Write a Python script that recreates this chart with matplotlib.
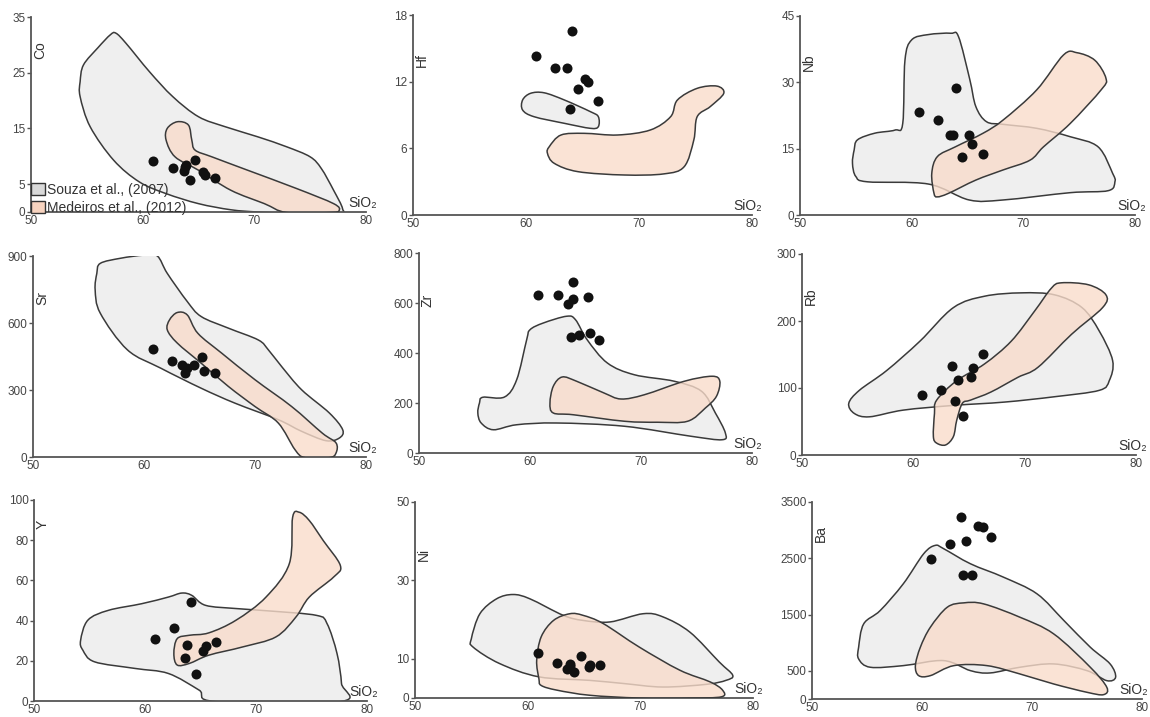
import numpy as np
import matplotlib
matplotlib.use("Agg")
import matplotlib.pyplot as plt
from matplotlib.path import Path
from matplotlib.patches import PathPatch, Patch

plt.rcParams['font.family'] = ['Liberation Sans', 'DejaVu Sans']

# ---------------- data ----------------
x_ticks = [50, 60, 70, 80]

# Co
co_si = [60.9, 62.7, 63.7, 63.8, 63.9, 64.7, 64.2, 65.4, 65.6, 66.5]
co_val = [9.1, 7.9, 7.4, 8.1, 8.5, 9.4, 5.7, 7.1, 6.7, 6.1]
co_souza = [(54.4, 23.4), (54.7, 26.4), (56.0, 29.5), (57.1, 31.8), (57.6, 32.1), (58.5, 30.3),
            (60.6, 25.2), (62.7, 20.7), (65.0, 17.1), (67.4, 15.3), (70.3, 13.5), (72.9, 11.7),
            (75.0, 9.9), (76.0, 7.8), (77.1, 3.9), (77.9, 0.6), (77.5, -0.2), (72.9, -0.2),
            (70.3, 0.0), (67.9, 0.4), (65.0, 1.5), (62.1, 3.3), (59.7, 5.4), (57.4, 9.3),
            (55.3, 15.3), (54.4, 20.7)]
co_medeiros = [(63.1, 16.2), (64.1, 15.6), (64.4, 12.9), (64.7, 11.1), (66.2, 9.9), (69.4, 7.5),
               (73.8, 4.2), (77.1, 1.5), (77.6, 0.3), (76.8, -0.1), (72.9, -0.1), (70.9, 1.5),
               (67.9, 3.9), (65.0, 7.5), (62.9, 9.9), (62.1, 12.9), (62.2, 15.0)]

# Hf
hf_si = [60.85, 62.6, 63.65, 64.1, 64.6, 65.2, 65.5, 66.4, 63.9]
hf_val = [14.3, 13.26, 13.2, 16.56, 11.3, 12.24, 11.97, 10.29, 9.5]
hf_souza = [(59.7, 10.35), (60.4, 10.95), (61.6, 11.0), (63.4, 10.35), (65.7, 9.3), (66.4, 8.85),
            (66.4, 7.95), (65.7, 7.8), (63.4, 8.25), (60.7, 8.85), (59.7, 9.45)]
hf_medeiros = [(62.06, 6.15), (63.1, 7.2), (65.15, 7.35), (68.1, 7.2), (71.0, 7.65), (72.8, 8.85),
               (73.4, 10.35), (75.15, 11.4), (76.9, 11.6), (77.5, 10.95), (76.3, 9.75),
               (75.15, 8.85), (74.85, 6.75), (74.0, 4.35), (72.2, 3.7), (68.7, 3.6), (64.6, 3.9),
               (62.5, 4.65), (61.9, 5.55)]

# Nb
nb_si = [60.7, 62.4, 63.4, 63.7, 64.0, 64.5, 65.15, 65.4, 66.4]
nb_val = [23.2, 21.5, 18.2, 18.1, 28.8, 13.2, 18.2, 16.05, 13.9]
nb_souza = [(54.85, 14.7), (55.15, 17.0), (56.7, 18.5), (58.5, 19.2), (59.2, 20.7), (59.4, 35.0),
            (60.0, 39.6), (61.5, 40.8), (63.5, 41.1), (64.2, 40.3), (65.2, 30.7), (65.75, 24.5),
            (66.7, 21.1), (68.2, 20.5), (71.2, 19.6), (74.2, 17.7), (76.7, 15.4), (78.0, 9.4),
            (78.2, 7.5), (77.6, 5.5), (74.2, 5.05), (68.2, 3.4), (65.15, 3.4), (61.5, 7.0),
            (56.06, 7.5), (55.0, 8.7), (54.7, 11.7)]
nb_medeiros = [(62.0, 4.9), (61.8, 9.4), (62.3, 13.2), (63.9, 15.4), (66.4, 18.5), (68.2, 21.5),
               (71.2, 28.3), (73.6, 36.2), (74.8, 36.7), (76.4, 35.0), (77.4, 30.9), (77.0, 28.4),
               (74.2, 20.7), (71.8, 15.4), (70.6, 12.4), (68.2, 10.2), (65.75, 7.9), (63.3, 4.9),
               (62.3, 4.1)]

# Sr
sr_si = [60.85, 62.5, 63.4, 63.7, 63.9, 64.5, 65.2, 65.45, 66.4]
sr_val = [483, 432, 413, 375, 398, 413, 450, 383, 378]
sr_souza = [(55.75, 822), (56.06, 867), (57.9, 890), (60.0, 904), (61.2, 900), (62.1, 822),
            (63.9, 696), (65.15, 629), (67.6, 577), (70.3, 524), (71.2, 480), (72.4, 405),
            (74.2, 301), (76.7, 197), (77.9, 122), (77.6, 85), (76.4, 73), (74.2, 115),
            (72.1, 167), (68.2, 241), (65.15, 308), (61.5, 398), (58.5, 480), (56.06, 644),
            (55.6, 748)]
sr_medeiros = [(62.3, 614), (63.0, 647), (63.9, 636), (64.85, 554), (67.0, 465), (70.0, 346),
               (73.3, 226), (76.06, 107), (77.3, 63), (77.3, 18), (76.7, -3), (74.5, -3),
               (73.6, 33), (72.1, 152), (70.0, 226), (67.6, 316), (65.15, 420), (63.0, 510),
               (62.1, 569)]

# Zr
zr_si = [60.76, 62.5, 63.4, 63.9, 63.9, 65.2, 63.7, 64.4, 65.4, 66.2]
zr_val = [631, 631, 596, 684, 617, 623, 463, 471, 479, 453]
zr_souza = [(55.45, 200), (55.75, 223), (57.7, 224), (58.8, 293), (59.7, 453), (60.0, 493),
            (61.2, 520), (63.3, 547), (64.1, 533), (65.15, 453), (66.97, 360), (69.4, 313),
            (73.0, 287), (75.45, 247), (76.7, 160), (77.6, 80), (77.3, 53), (74.5, 67),
            (68.5, 107), (62.4, 120), (58.8, 113), (56.7, 93), (55.6, 120), (55.3, 160)]
zr_medeiros = [(61.8, 200), (62.1, 267), (62.9, 304), (64.2, 287), (66.67, 240), (68.2, 216),
               (70.3, 233), (73.9, 287), (76.4, 307), (77.1, 287), (76.8, 227), (75.8, 180),
               (74.2, 127), (71.5, 123), (68.5, 127), (63.9, 153), (62.1, 160)]

# Rb
rb_si = [60.8, 62.5, 63.5, 63.7, 64.0, 64.5, 65.2, 65.4, 66.3]
rb_val = [89, 97.5, 133.5, 80, 112, 58.6, 116, 129.5, 150.7]
rb_souza = [(54.2, 77), (55.15, 96.5), (57.6, 126), (60.6, 170), (63.6, 220), (66.4, 237),
            (69.7, 242), (72.7, 239), (75.15, 220), (76.7, 185), (77.9, 141), (77.6, 111),
            (76.7, 96.5), (72.7, 87), (68.2, 79), (63.6, 74), (59.1, 67), (56.06, 57), (54.7, 62)]
rb_medeiros = [(61.8, 27.6), (61.9, 62), (62.1, 82), (63.9, 111), (66.4, 136), (68.8, 170),
               (70.9, 215), (72.4, 249), (73.3, 257), (75.75, 254), (77.3, 239), (77.0, 220),
               (74.2, 180), (71.2, 131), (69.4, 116), (66.97, 94), (65.15, 82), (64.4, 77),
               (63.9, 52), (63.6, 27.6), (62.9, 15), (62.1, 17.7)]

# Y
y_si = [60.9, 62.6, 63.75, 63.6, 64.1, 64.6, 65.2, 65.5, 66.4]
y_val = [30.7, 36.5, 28.1, 21.2, 49.4, 13.4, 25.0, 27.6, 29.4]
y_souza = [(54.2, 30.2), (54.85, 40.2), (56.7, 45.1), (59.7, 48.4), (62.1, 51.7), (63.3, 53.7),
           (64.2, 52.6), (65.45, 47.6), (68.2, 46.0), (71.2, 44.8), (75.45, 42.6), (76.4, 38.5),
           (77.3, 23.6), (77.7, 8.8), (77.6, -0.3), (66.4, -0.3), (64.85, 5.5), (62.1, 13.7),
           (59.1, 16.2), (55.45, 19.5), (54.4, 25.3)]
y_medeiros = [(62.6, 23.6), (62.9, 31.0), (64.0, 32.7), (65.75, 33.9), (68.2, 40.2), (70.9, 51.7),
              (73.0, 68.3), (73.3, 91.4), (73.9, 93.9), (74.8, 89.8), (76.06, 79.8), (77.6, 67.4),
              (77.0, 61.7), (74.8, 51.7), (73.6, 41.8), (71.8, 31.9), (68.8, 26.9), (65.75, 22.8),
              (64.0, 18.7), (62.9, 17.9)]

# Ni
ni_si = [60.94, 62.6, 63.75, 63.8, 63.5, 64.1, 64.7, 65.4, 65.55, 66.4]
ni_val = [11.56, 9.0, 8.2, 8.6, 7.4, 6.6, 10.7, 7.9, 8.4, 8.4]
ni_souza = [(55.0, 15.1), (55.76, 21.5), (57.24, 25.3), (58.7, 26.4), (60.2, 25.3), (63.15, 21.1),
            (64.9, 19.8), (67.3, 19.4), (70.25, 21.5), (72.0, 20.7), (74.4, 16.8), (77.0, 9.2),
            (78.2, 5.8), (77.6, 4.5), (75.9, 3.5), (72.0, 2.8), (68.5, 3.7), (65.5, 4.5),
            (61.0, 5.4), (57.5, 8.8), (55.15, 13.0)]
ni_medeiros = [(61.0, 4.9), (60.8, 9.6), (61.2, 15.6), (62.3, 19.8), (63.75, 21.5), (64.9, 21.1),
               (66.7, 19.0), (69.9, 13.0), (73.5, 7.1), (76.2, 4.1), (77.3, 2.0), (77.2, 0.3),
               (74.4, 0.0), (69.9, 0.0), (65.5, 0.7), (62.6, 2.0), (61.2, 3.2)]

# Ba
ba_si = [60.85, 62.5, 63.55, 64.0, 63.7, 64.5, 65.1, 65.5, 66.3]
ba_val = [2480, 2747, 3227, 2800, 2195, 2195, 3079, 3061, 2871]
ba_souza = [(54.24, 920), (54.7, 1335), (56.2, 1572), (58.3, 2047), (60.15, 2580), (61.2, 2729),
            (61.97, 2670), (64.4, 2403), (67.4, 2165), (70.45, 1869), (72.9, 1394), (75.3, 920),
            (77.1, 623), (77.6, 386), (76.8, 326), (75.0, 504), (71.97, 623), (68.9, 564),
            (66.2, 463), (64.4, 504), (61.97, 682), (58.3, 593), (55.3, 564), (54.24, 712)]
ba_medeiros = [(59.4, 593), (59.85, 920), (60.76, 1275), (62.3, 1631), (63.8, 1708), (65.6, 1690),
               (68.9, 1453), (71.97, 1157), (75.3, 564), (76.8, 208), (76.5, 77), (75.0, 119),
               (71.97, 267), (68.9, 445), (65.9, 593), (62.9, 593), (60.76, 415), (59.7, 415)]

# panel name, y ticks, samples, fields
panels = [
    ("Co", [0, 5, 15, 25, 35], co_si, co_val, co_souza, co_medeiros),
    ("Hf", [0, 6, 12, 18], hf_si, hf_val, hf_souza, hf_medeiros),
    ("Nb", [0, 15, 30, 45], nb_si, nb_val, nb_souza, nb_medeiros),
    ("Sr", [0, 300, 600, 900], sr_si, sr_val, sr_souza, sr_medeiros),
    ("Zr", [0, 200, 400, 600, 800], zr_si, zr_val, zr_souza, zr_medeiros),
    ("Rb", [0, 100, 200, 300], rb_si, rb_val, rb_souza, rb_medeiros),
    ("Y", [0, 20, 40, 60, 80, 100], y_si, y_val, y_souza, y_medeiros),
    ("Ni", [0, 10, 30, 50], ni_si, ni_val, ni_souza, ni_medeiros),
    ("Ba", [0, 500, 1500, 2500, 3500], ba_si, ba_val, ba_souza, ba_medeiros),
]

# ---------------- layout (pixels: left, top, right, bottom) ----------------
W, H = 1150, 717
rects = [(31, 17, 366, 212), (413, 15, 752, 215), (800, 16, 1135, 215),
         (33, 256, 366, 457), (419, 253, 752, 453), (802, 254, 1136, 455),
         (34, 500, 367, 701), (415, 502, 753, 698), (812, 502, 1142, 699)]
label_y = [0.83, 0.775, 0.77, 0.79, 0.765, 0.79, 0.88, 0.735, 0.84]
sio2_right_px = [377, 762, 1146, 377, 762, 1147, 378, 763, 1148]

GRAY_FILL = "#efefef"
PEACH_FILL = "#f9dccb"
EDGE = "#3a3a3a"


def smooth_path(pts):
    """Closed Catmull-Rom outline expressed as cubic Bezier path codes."""
    p = np.asarray(pts, dtype=float)
    n = len(p)
    verts = [p[0]]
    codes = [Path.MOVETO]
    for i in range(n):
        p0, p1, p2, p3 = p[i - 1], p[i], p[(i + 1) % n], p[(i + 2) % n]
        c1 = p1 + (p2 - p0) / 6.0
        c2 = p2 - (p3 - p1) / 6.0
        verts += [c1, c2, p2]
        codes += [Path.CURVE4] * 3
    verts.append(p[0])
    codes.append(Path.CLOSEPOLY)
    return Path(verts, codes)


fig = plt.figure(figsize=(W / 100, H / 100), dpi=100)

for idx, (name, yt, sx, sy, souza, med) in enumerate(panels):
    l, t, r, b = rects[idx]
    ax = fig.add_axes([l / W, 1 - b / H, (r - l) / W, (b - t) / H])
    ax.set_xlim(50, 80)
    ax.set_ylim(0, yt[-1])
    ax.set_xticks(x_ticks)
    ax.set_yticks(yt)
    for s in ("top", "right"):
        ax.spines[s].set_visible(False)
    for s in ("left", "bottom"):
        ax.spines[s].set_color("#555555")
        ax.spines[s].set_linewidth(1.3)
    ax.tick_params(axis="y", length=3, width=1, color="#555555", labelsize=8.5,
                   labelcolor="#444444", pad=1)
    ax.tick_params(axis="x", length=0, labelsize=8.5, labelcolor="#444444", pad=2)
    ax.set_facecolor("none")

    ax.add_patch(PathPatch(smooth_path(souza), facecolor=GRAY_FILL, edgecolor=EDGE,
                           lw=1.1, zorder=1))
    ax.add_patch(PathPatch(smooth_path(med), facecolor=PEACH_FILL, edgecolor="none",
                           alpha=0.8, lw=0, zorder=2))
    ax.add_patch(PathPatch(smooth_path(med), facecolor="none", edgecolor=EDGE,
                           lw=1.1, zorder=3))
    ax.scatter(sx, sy, s=52, color="#111111", zorder=4, linewidths=0)

    ax.text(0.027, label_y[idx], name, transform=ax.transAxes, rotation=90,
            ha="center", va="center", fontsize=10, color="#333333")
    ax.text((sio2_right_px[idx] - l) / (r - l), 0.01, "SiO\u2082", transform=ax.transAxes,
            ha="right", va="bottom", fontsize=10, color="#333333")

    if idx == 0:
        handles = [Patch(facecolor="#d9d9d9", edgecolor="#333333", lw=1.0,
                         label="Souza et al., (2007)"),
                   Patch(facecolor="#f7d3bf", edgecolor="#333333", lw=1.0,
                         label="Medeiros et al., (2012)")]
        ax.legend(handles=handles, loc="lower left", bbox_to_anchor=(-0.005, -0.02),
                  frameon=False, fontsize=10, handlelength=1.0, handleheight=1.0,
                  handletextpad=0.2, labelspacing=0.25, borderaxespad=0.0,
                  borderpad=0.1, labelcolor="#333333")

fig.savefig("out.png", dpi=100)
